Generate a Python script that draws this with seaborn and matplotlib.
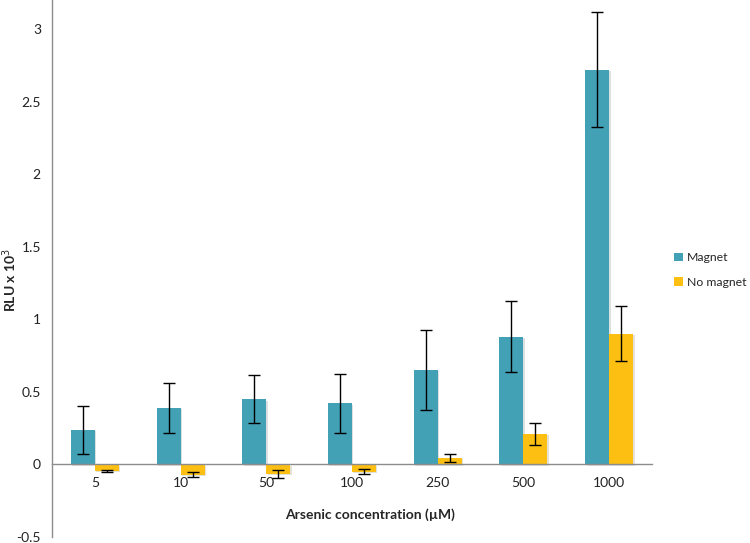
import matplotlib
matplotlib.use("Agg")
import matplotlib.pyplot as plt
import matplotlib.patheffects as pe
from matplotlib.patches import Patch
import seaborn as sns
import pandas as pd
import numpy as np

categories = ["5", "10", "50", "100", "250", "500", "1000"]
magnet = [0.24, 0.39, 0.45, 0.42, 0.65, 0.88, 2.72]
magnet_err = [0.165, 0.17, 0.165, 0.20, 0.275, 0.245, 0.395]
no_magnet = [-0.045, -0.07, -0.065, -0.05, 0.046, 0.21, 0.90]
no_magnet_err = [0.01, 0.015, 0.027, 0.016, 0.027, 0.077, 0.19]
series = ["Magnet", "No magnet"]
colors = ["#43a1b6", "#fdc012"]

sns.set_theme(style="white")
plt.rcParams["font.family"] = ["Lato", "DejaVu Sans"]

df = pd.DataFrame({
    "conc": categories * 2,
    "val": magnet + no_magnet,
    "series": [series[0]] * len(categories) + [series[1]] * len(categories),
})

fig = plt.figure(figsize=(7.5, 5.43), dpi=100)
ax = fig.add_axes([52 / 750, 6 / 543, 600 / 750, 537 / 543])

sns.barplot(data=df, x="conc", y="val", hue="series", order=categories,
            hue_order=series, palette=colors, width=0.56, errorbar=None,
            saturation=1, ax=ax, legend=False)

errs = magnet_err + no_magnet_err
vals = magnet + no_magnet
for p, v, e in zip(ax.patches, vals, errs):
    p.set_edgecolor("none")
    p.set_path_effects([pe.SimplePatchShadow(offset=(1, -1), alpha=0.15), pe.Normal()])
    xc = p.get_x() + p.get_width() / 2
    ax.errorbar(xc, v, yerr=e, fmt="none", ecolor="black", elinewidth=1,
                capsize=4, capthick=1, zorder=5)

ax.set_xlim(-0.5, len(categories) - 0.5)
ax.set_ylim(-0.5, 3.2)
ax.set_yticks([-0.5, 0, 0.5, 1, 1.5, 2, 2.5, 3])
ax.set_yticklabels(["-0.5", "0", "0.5", "1", "1.5", "2", "2.5", "3"])

for s in ["top", "right"]:
    ax.spines[s].set_visible(False)
ax.spines["bottom"].set_position(("data", 0))
for s in ["left", "bottom"]:
    ax.spines[s].set_color("#8c8c8c")
    ax.spines[s].set_linewidth(1)

ax.set_xticks(np.arange(len(categories)))
ax.set_xticklabels(categories)
ax.set_xticks(np.arange(len(categories) + 1) - 0.5, minor=True)
ax.tick_params(axis="x", which="major", length=0, pad=9, labelsize=10, colors="#222222")
ax.tick_params(axis="x", which="minor", length=4, width=1, color="#8c8c8c", direction="out")
ax.tick_params(axis="y", length=4, width=1, color="#8c8c8c", direction="out",
               labelsize=10, labelcolor="#222222", pad=4)

ax.set_xlabel("Arsenic concentration (µM)", fontsize=10, fontweight="bold")
ax.xaxis.set_label_coords((370 - 52) / 600, (537 - 515) / 537)
ax.xaxis.label.set_verticalalignment("center")
ax.set_ylabel("RLU x 10$^3$", fontsize=10, fontweight="bold")
ax.yaxis.set_label_coords((10 - 52) / 600, (537 - 280) / 537)
ax.yaxis.label.set_verticalalignment("center")

handles = [Patch(facecolor=c, edgecolor="none", label=s) for c, s in zip(colors, series)]
fig.legend(handles=handles, loc="center left", bbox_to_anchor=(674 / 750, 1 - 270 / 543),
           frameon=False, fontsize=8.8, handlelength=0.7, handleheight=0.7,
           handletextpad=0.35, labelspacing=1.1, borderpad=0, borderaxespad=0)

fig.savefig("out.png", dpi=100)
